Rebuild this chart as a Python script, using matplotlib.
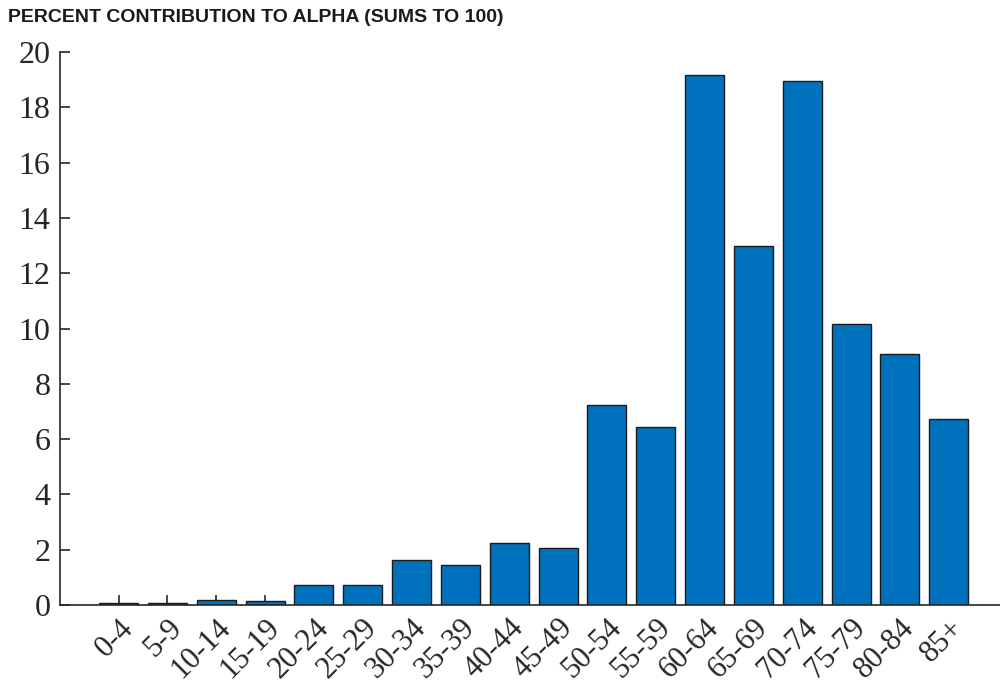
import matplotlib
matplotlib.use("Agg")
import matplotlib.pyplot as plt
import numpy as np

categories = ["0-4", "5-9", "10-14", "15-19", "20-24", "25-29", "30-34", "35-39",
              "40-44", "45-49", "50-54", "55-59", "60-64", "65-69", "70-74",
              "75-79", "80-84", "85+"]
values = [0.07, 0.07, 0.17, 0.15, 0.72, 0.72, 1.63, 1.45, 2.24, 2.06,
          7.23, 6.44, 19.17, 12.98, 18.95, 10.16, 9.08, 6.73]
yticks = [0, 2, 4, 6, 8, 10, 12, 14, 16, 18, 20]
title = "PERCENT CONTRIBUTION TO ALPHA (SUMS TO 100)"

axis_color = "#262626"
fig = plt.figure(figsize=(10, 6.9), dpi=100)
ax = fig.add_axes([0.06, 1 - 605 / 690, 0.94, (605 - 52) / 690])
x = np.arange(1, len(categories) + 1)
ax.bar(x, values, width=0.8, color="#0072BD", edgecolor="#1a1a1a", linewidth=1.0)
ax.set_axisbelow(True)
ax.set_xlim(1 - 1.2, len(categories) + 1.05)
ax.set_ylim(0, 20)
ax.set_yticks(yticks)
ax.set_xticks(x)
ax.set_xticklabels(categories, rotation=45, ha="right", va="top", rotation_mode="anchor",
                   family="Liberation Serif", fontsize=22, color=axis_color)
ax.set_yticklabels([str(t) for t in yticks], family="Liberation Serif", fontsize=23,
                   color=axis_color)
for side in ["top", "right"]:
    ax.spines[side].set_visible(False)
for side in ["left", "bottom"]:
    ax.spines[side].set_color(axis_color)
    ax.spines[side].set_linewidth(1.2)
ax.tick_params(axis="both", direction="in", length=7, width=1.2, color=axis_color)
ax.tick_params(axis="y", pad=7)
ax.tick_params(axis="x", pad=6)
fig.text(0.008, 1 - 18 / 690, title, fontsize=14, fontweight="bold",
         family="Liberation Sans", color="#1a1a1a", va="center", ha="left")
fig.savefig("out.png", dpi=100)
